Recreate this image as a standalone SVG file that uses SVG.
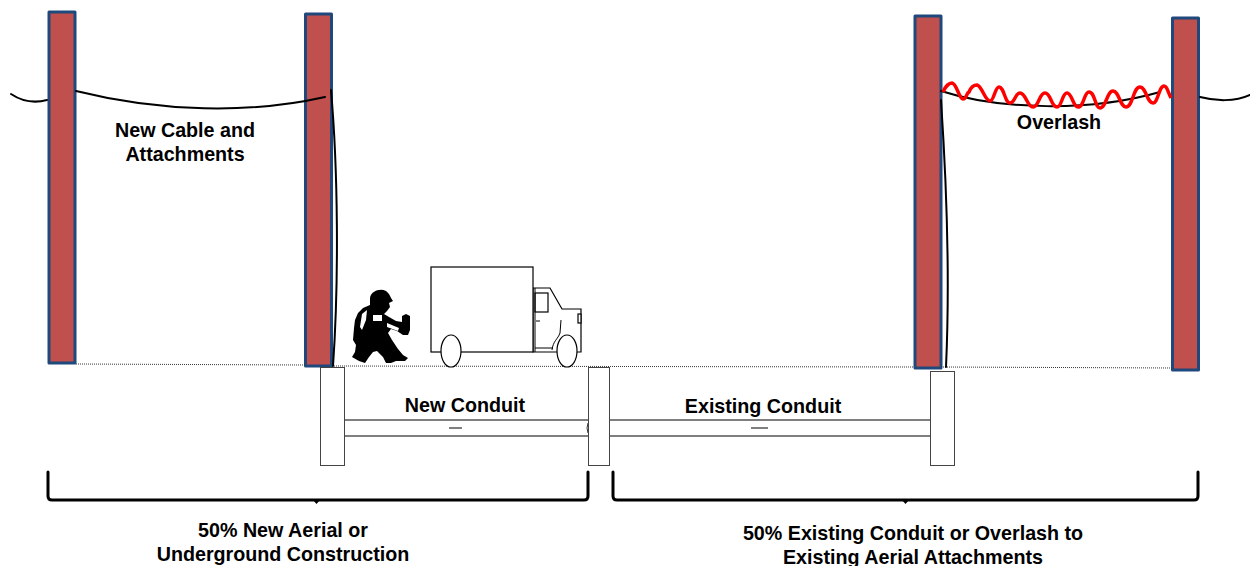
<svg xmlns="http://www.w3.org/2000/svg" width="1250" height="566" viewBox="0 0 1250 566">
<style>
.pole{fill:#c0504d;stroke:#1f497d;stroke-width:3;stroke-linejoin:round}
.cable{fill:none;stroke:#000;stroke-width:2;stroke-linecap:round}
.ground{fill:none;stroke:#333;stroke-width:1;stroke-dasharray:1 1}
.vault{fill:#fff;stroke:#444;stroke-width:1}
.pipe{fill:none;stroke:#555;stroke-width:1.400}
.brace{fill:none;stroke:#000;stroke-width:3;stroke-linejoin:round;stroke-linecap:round}
.body{fill:#fff;stroke:#000;stroke-width:1.200}
text{font-family:"Liberation Sans",Arial,sans-serif;font-size:19.700px;font-weight:700;fill:#000;text-anchor:middle}
</style>
<g id="pole-1"><rect class="pole" x="49" y="12" width="26" height="351"/></g>
<g id="pole-2"><rect class="pole" x="305.500" y="14" width="26" height="352"/></g>
<g id="pole-3"><rect class="pole" x="915" y="16" width="26" height="352"/></g>
<g id="pole-4"><rect class="pole" x="1172.500" y="18" width="26" height="352"/></g>
<g id="connectors">
<path class="ground" d="M76 364L305 365M332 366L914 367M941 367L1172 368"/>
<path class="cable" d="M11 94C20 100 32 104 47 100"/>
<path class="cable" d="M76 91C160 112 250 114 325 97"/>
<path class="cable" d="M331 90C338 170 339 280 333 366"/>
<path class="cable" d="M941 91C1000 110 1090 112 1160 92"/>
<path class="cable" d="M941 100C947 190 950 280 946 367"/>
<path class="cable" d="M1200 97C1215 101 1235 102 1250 95"/>
<path fill="none" stroke="#f00" stroke-width="3.500" stroke-linejoin="round" d="M943 92C946 85 950 83 952 83C957 84 959 99 963 99C967 99 966 93 969 92C971 87 974 85 977 85C982 86 985 101 990 101C994 101 995 87 999 87C1004 87 1005 103 1010 103C1015 103 1015 93 1020 93C1026 93 1027 107 1033 107C1039 107 1039 93 1045 93C1051 93 1051 107 1057 107C1062 107 1062 93 1067 93C1072 93 1073 107 1078 107C1084 107 1084 92 1089 92C1095 92 1095 108 1100 108C1106 108 1107 91 1113 91C1119 91 1120 107 1126 107C1133 107 1133 87 1140 87C1146 87 1147 103 1153 103C1158 103 1159 86 1164 86C1167 86 1168 92 1171 98"/>
</g>
<g id="conduit-new">
<path class="pipe" d="M344 420H588M344 436H588M449 428H462"/>
<path fill="none" stroke="#333" d="M588 423Q586 428 588 433"/>
</g>
<g id="conduit-existing">
<path class="pipe" d="M609 420H930M609 436H930M751 428H768"/>
</g>
<g id="vault-1"><rect class="vault" x="320.500" y="367.500" width="24" height="98"/></g>
<g id="vault-2"><rect class="vault" x="588.500" y="367.500" width="21" height="98"/></g>
<g id="vault-3"><rect class="vault" x="930.500" y="371.500" width="24" height="94"/></g>
<g id="truck">
<path class="body" d="M533 288H550L562 309H581V352H533Z"/>
<rect class="body" x="535" y="293" width="13" height="19"/>
<path fill="none" stroke="#000" d="M535 288V352M561 320L560 333C558 339 553 341 552 350M535 348H553M536 321H540"/>
<rect class="body" x="578" y="314" width="3" height="9"/>
<rect class="body" x="431" y="267" width="102" height="85"/>
<ellipse class="body" cx="451" cy="351" rx="10" ry="16"/>
<ellipse class="body" cx="567" cy="351" rx="10" ry="16"/>
</g>
<g id="worker">
<path fill="#000" d="M370 298C371 291 380 288 386 291C389 293 390 296 391 298L393 301L389 303L390 307L387 311L384 314L389 317L396 321L402 322L402 316L406 314L410 316L410 330L408 335L403 335L400 333L397 331L391 329L388 333L392 340L398 349L403 355L408 358L405 361L396 361L391 363L386 363L383 357L377 351L373 352L369 357L365 363L359 361L352 357L355 352L356 345L353 340L354 328L355 320L358 313L363 308L370 305Z"/>
<rect x="373" y="315" width="9" height="6" fill="#fff"/>
<path fill="#fff" d="M362 314L367 310L366 320L362 330L360 327Z"/>
<path fill="#fff" d="M387 323L399 328L398 331L387 327Z"/>
</g>
<g id="brace-left"><path class="brace" d="M48 472V496Q48 500 52 500H316M316 500H584Q588 500 588 496V472"/><path d="M313 500H320L316.500 504Z"/></g>
<g id="brace-right"><path class="brace" d="M613 472V496Q613 500 617 500H905M905 500H1194Q1198 500 1198 496V472"/><path d="M902 500H909L905.500 504Z"/></g>
<g id="labels">
<text x="185" y="137">New Cable and</text>
<text x="185" y="161">Attachments</text>
<text x="1059" y="129">Overlash</text>
<text x="465" y="412">New Conduit</text>
<text x="763" y="413">Existing Conduit</text>
<text x="283" y="537">50% New Aerial or</text>
<text x="283" y="561">Underground Construction</text>
<text x="913" y="540">50% Existing Conduit or Overlash to</text>
<text x="913" y="564">Existing Aerial Attachments</text>
</g>
</svg>
